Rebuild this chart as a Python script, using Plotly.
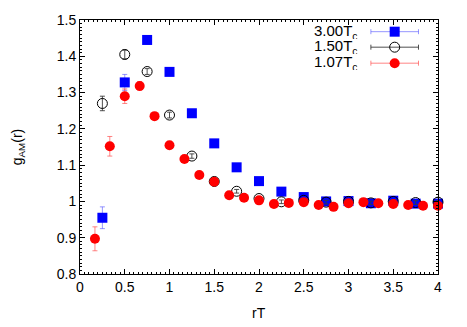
import plotly.graph_objects as go

# g_AM(r) at three temperatures
x_300 = [0.25, 0.5, 0.75, 1.0, 1.25, 1.5, 1.75, 2.0, 2.25, 2.5, 2.75, 3.0, 3.25, 3.5, 3.75, 4.0]
y_300 = [0.955, 1.328, 1.445, 1.357, 1.243, 1.160, 1.094, 1.056, 1.027, 1.012, 1.000, 1.001, 0.995, 1.002, 0.994, 0.994]
e_300 = [0.030, 0.022, 0.012, 0.010, 0.006, 0.005, 0.004, 0.004, 0.004, 0.004, 0.004, 0.004, 0.004, 0.004, 0.004, 0.004]

x_150 = [0.25, 0.5, 0.75, 1.0, 1.25, 1.5, 1.75, 2.0, 2.25, 2.5, 2.75, 3.0, 3.25, 3.5, 3.75, 4.0]
y_150 = [1.270, 1.405, 1.358, 1.238, 1.125, 1.055, 1.028, 1.008, 0.999, 1.003, 0.998, 1.000, 0.996, 1.000, 0.997, 0.998]
e_150 = [0.020, 0.012, 0.008, 0.008, 0.006, 0.005, 0.005, 0.005, 0.005, 0.005, 0.005, 0.005, 0.005, 0.005, 0.005, 0.005]

x_107 = [0.167, 0.333, 0.5, 0.667, 0.833, 1.0, 1.167, 1.333, 1.5, 1.667, 1.833, 2.0,
         2.167, 2.333, 2.5, 2.667, 2.833, 3.0, 3.167, 3.333, 3.5, 3.667, 3.833, 4.0]
y_107 = [0.897, 1.152, 1.290, 1.318, 1.235, 1.155, 1.117, 1.073, 1.054, 1.017, 1.010, 1.003,
         0.993, 0.996, 0.998, 0.990, 0.985, 0.995, 0.998, 0.995, 0.993, 0.990, 0.988, 0.988]
e_107 = [0.033, 0.027, 0.020, 0.012, 0.008, 0.006, 0.005, 0.005, 0.005, 0.004, 0.004, 0.004,
         0.004, 0.004, 0.004, 0.004, 0.004, 0.004, 0.004, 0.004, 0.004, 0.004, 0.004, 0.004]

labels = ["3.00T<sub>c</sub>", "1.50T<sub>c</sub>", "1.07T<sub>c</sub>"]

FONT = "Liberation Sans, Arial, sans-serif"

series = [
    (x_300, y_300, e_300, dict(symbol="square", size=10, color="#0000ff"), "rgba(80,80,255,0.6)"),
    (x_150, y_150, e_150, dict(symbol="circle-open", size=10, color="black", line=dict(width=1)), "rgba(60,60,60,0.9)"),
    (x_107, y_107, e_107, dict(symbol="circle", size=10, color="#ff0000"), "rgba(255,80,80,0.7)"),
]

fig = go.Figure()

for xs, ys, es, mk, ecol in series:
    fig.add_trace(go.Scatter(
        x=xs, y=ys, mode="markers", marker=mk,
        error_y=dict(type="data", array=es, visible=True, color=ecol, thickness=1, width=2.5),
        showlegend=False, cliponaxis=False,
    ))

# gnuplot-style key: text on the left, sample with horizontal error bar on the right
key_y = [0.954, 0.893, 0.830]
for (xs, ys, es, mk, ecol), lab, ky in zip(series, labels, key_y):
    fig.add_trace(go.Scatter(
        x=[0.879], y=[ky], xaxis="x2", yaxis="y2", mode="markers", marker=mk,
        error_x=dict(type="data", array=[0.0665], visible=True, color=ecol, thickness=1, width=2.5),
        showlegend=False, hoverinfo="skip",
    ))
    fig.add_annotation(x=0.782, y=ky, xref="paper", yref="paper", text=lab,
                       showarrow=False, xanchor="right", yanchor="middle",
                       height=14, valign="middle",
                       font=dict(family=FONT, size=15, color="black"))

# x-axis title as an annotation so it sits where gnuplot put it
fig.add_annotation(x=0.5, y=-0.154, xref="paper", yref="paper", text="rT",
                   showarrow=False, xanchor="center", yanchor="middle",
                   font=dict(family=FONT, size=14, color="black"))

axis_common = dict(
    showline=True, linecolor="black", linewidth=1, mirror="ticks",
    ticks="inside", ticklen=5, tickcolor="black", showgrid=False, zeroline=False,
    tickfont=dict(family=FONT, size=14, color="black"), automargin=False,
)

# page body has an 8px margin, so the figure is shrunk to keep the axes where they belong
fig.update_layout(
    width=459, height=319,
    margin=dict(l=72, r=29, t=12, b=53),
    plot_bgcolor="white", paper_bgcolor="white",
    xaxis=dict(range=[0, 4], dtick=0.5,
               minor=dict(dtick=0.05, ticks="inside", ticklen=2, tickcolor="black"),
               **axis_common),
    yaxis=dict(range=[0.8, 1.5], dtick=0.1,
               minor=dict(dtick=0.01, ticks="inside", ticklen=2, tickcolor="black"),
               title=dict(text="g<sub>AM</sub>(r)", font=dict(family=FONT, size=14, color="black"), standoff=30),
               **axis_common),
    xaxis2=dict(range=[0, 1], overlaying="x", visible=False),
    yaxis2=dict(range=[0, 1], overlaying="y", visible=False),
)

fig.write_html("out.html")
